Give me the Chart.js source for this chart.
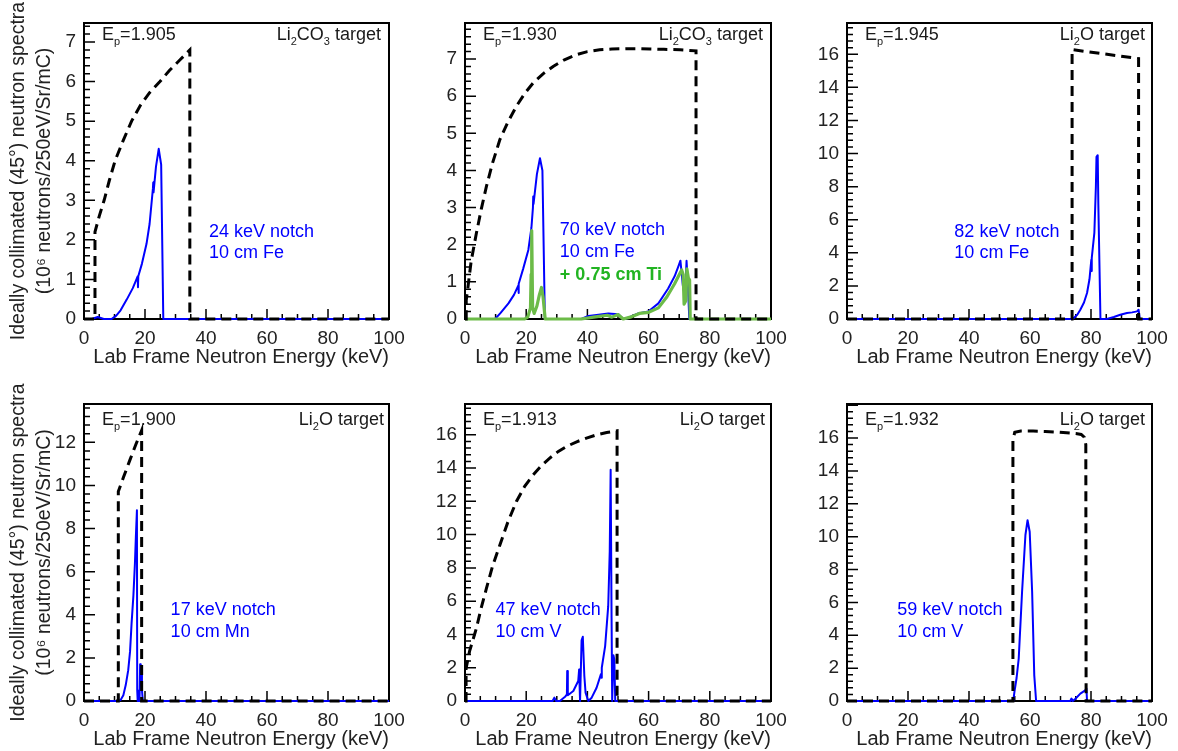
<!DOCTYPE html>
<html>
<head>
<meta charset="utf-8">
<script src="https://cdn.jsdelivr.net/npm/chart.js@4.4.1/dist/chart.umd.min.js"></script>
<style>
  html, body { margin: 0; padding: 0; background: #fff; }
  #wrap { position: relative; width: 1178px; height: 751px; overflow: hidden; }
  #wrap canvas { position: absolute; }
</style>
</head>
<body>
<div id="wrap"></div>
<script>
// ---- data ----
const energyTicks = [0, 20, 40, 60, 80, 100];
const yTitle = ['Ideally collimated (45°) neutron spectra', '(10⁶ neutrons/250eV/Sr/mC)'];
const xTitle = 'Lab Frame Neutron Energy (keV)';

const beamEnergies = ['1.905', '1.930', '1.945', '1.900', '1.913', '1.932'];
const targets = ['Li_{2}CO_{3} target', 'Li_{2}CO_{3} target', 'Li_{2}O target',
                 'Li_{2}O target', 'Li_{2}O target', 'Li_{2}O target'];
const notchLabels = [
  ['24 keV notch', '10 cm Fe'],
  ['70 keV notch', '10 cm Fe'],
  ['82 keV notch', '10 cm Fe'],
  ['17 keV notch', '10 cm Mn'],
  ['47 keV notch', '10 cm V'],
  ['59 keV notch', '10 cm V']
];
const tiLabel = '+ 0.75 cm Ti';
const yMaxes = [7.48, 7.97, 17.89, 13.78, 17.85, 18.07];
const yTicks1 = [0, 1, 2, 3, 4, 5, 6, 7];
const yTicks2 = [0, 2, 4, 6, 8, 10, 12, 14, 16];
const yTickSets = [yTicks1, yTicks1, yTicks2, [0, 2, 4, 6, 8, 10, 12], yTicks2, yTicks2];

// panel 1: Ep=1.905, Li2CO3, 24 keV notch (10 cm Fe)
const p1IdealX = [0, 3.6, 3.6, 5, 6.6, 8.3, 10.2, 12.8, 15.6, 18.5, 21.5, 24.9, 28, 31.5, 34.7, 34.7, 100];
const p1IdealY = [0, 0, 2.2, 2.6, 3.0, 3.5, 4.0, 4.5, 5.0, 5.4, 5.72, 6.0, 6.28, 6.55, 6.8, 0, 0];
const p1FeX = [0, 2.5, 4.5, 6.5, 9, 10.5, 12, 14, 16, 17.6, 17.7, 17.8, 19, 20.5, 21.5, 22.6, 22.7, 22.8, 23.6, 24.5, 25, 25.3, 26, 100];
const p1FeY = [0, 0, 0.05, 0, 0, 0.08, 0.22, 0.49, 0.78, 1.08, 0.8, 1.08, 1.4, 1.9, 2.4, 3.3, 3.45, 3.2, 3.85, 4.3, 4.05, 3.9, 0, 0];

// panel 2: Ep=1.930, Li2CO3, 70 keV notch (10 cm Fe, + 0.75 cm Ti)
const p2IdealX = [0, 0.4, 0.4, 1, 2, 3.7, 5.3, 7, 9, 11.4, 14, 16.8, 19.5, 22.3, 25.5, 28.8, 32.5, 36.5, 40, 44, 48, 52.8, 57, 60.5, 65, 70.3, 75.5, 75.5, 100];
const p2IdealY = [0, 0, 0.5, 0.88, 1.55, 2.3, 2.95, 3.57, 4.2, 4.83, 5.3, 5.73, 6.07, 6.36, 6.6, 6.8, 6.98, 7.12, 7.2, 7.25, 7.27, 7.28, 7.28, 7.27, 7.26, 7.25, 7.22, 0, 0];
const p2FeX = [0, 9.8, 11.5, 14.2, 16, 17.4, 17.5, 17.6, 19, 20.7, 21.7, 22.2, 22.3, 22.4, 23.5, 24.5, 25.3, 26.1, 38, 40.3, 43, 46.8, 50.1, 51.7, 53, 56.6, 59.9, 63.2, 66.4, 68.5, 69.7, 70.4, 71.2, 71.9, 72.4, 72.8, 73.3, 100];
const p2FeY = [0, 0, 0.15, 0.42, 0.65, 0.9, 0.7, 0.95, 1.35, 1.86, 2.45, 3.0, 3.3, 3.1, 3.9, 4.33, 4.0, 0, 0, 0.08, 0.11, 0.15, 0.13, 0, 0.02, 0.15, 0.2, 0.42, 0.82, 1.15, 1.41, 1.57, 0.9, 0.6, 1.57, 1.0, 0, 0];
const p2TiX = [0, 19.5, 20.5, 21.4, 21.6, 21.8, 22.1, 22.6, 23.5, 24.3, 25, 25.5, 26.2, 38, 42, 46.5, 48, 50, 51.7, 54, 57, 60, 63.2, 66, 68.5, 70.8, 71.3, 71.6, 72.2, 72.5, 73.0, 73.4, 73.6, 100];
const p2TiY = [0, 0, 0.05, 0.3, 1.2, 2.38, 0.3, 0.15, 0.35, 0.65, 0.85, 0.6, 0, 0, 0.05, 0.1, 0.05, 0.12, 0, 0.05, 0.15, 0.18, 0.3, 0.6, 0.95, 1.32, 1.2, 0.4, 0.5, 1.35, 1.1, 1.05, 0, 0];

// panel 3: Ep=1.945, Li2O, 82 keV notch (10 cm Fe)
const p3IdealX = [0, 73.8, 73.8, 95.6, 95.6, 100];
const p3IdealY = [0, 0, 16.28, 15.74, 0, 0];
const p3FeX = [0, 74, 75.5, 76.5, 77.7, 78.7, 79.5, 80.1, 80.2, 80.3, 81.1, 81.6, 81.8, 82.2, 82.4, 83.1, 85.2, 87.5, 89.6, 91.8, 93.5, 95.1, 95.6, 96, 100];
const p3FeY = [0, 0, 0.25, 0.56, 1.0, 1.57, 2.4, 3.58, 2.9, 3.7, 5.2, 8.0, 9.8, 9.9, 7.0, 0, 0, 0.12, 0.26, 0.36, 0.4, 0.46, 0.56, 0, 0];

// panel 4: Ep=1.900, Li2O, 17 keV notch (10 cm Mn)
const p4IdealX = [0, 11.25, 11.25, 13, 15.1, 17, 18.9, 18.9, 100];
const p4IdealY = [0, 0, 9.72, 10.4, 11.2, 11.9, 12.56, 0, 0];
const p4MnX = [0, 11.3, 12, 12.9, 13.7, 14.5, 15.1, 15.6, 16.2, 16.7, 17.0, 17.35, 17.45, 17.6, 18.2, 18.4, 18.6, 18.8, 19.0, 19.3, 100];
const p4MnY = [0, 0, 0.05, 0.27, 0.75, 1.43, 2.3, 3.6, 4.9, 6.39, 7.6, 8.85, 0.5, 0, 0, 1.7, 0.8, 1.4, 0.5, 0, 0];

// panel 5: Ep=1.913, Li2O, 47 keV notch (10 cm V)
const p5IdealX = [0, 0.35, 0.35, 1.5, 3.7, 5.3, 7, 9, 11.4, 14, 16.8, 19.5, 22.3, 25, 27.7, 30.5, 33.2, 36.5, 39.7, 43, 46.3, 49.7, 49.7, 100];
const p5IdealY = [0, 0, 1.95, 3.0, 4.36, 5.6, 6.77, 8.1, 9.38, 10.75, 11.99, 12.9, 13.6, 14.15, 14.6, 15.0, 15.3, 15.58, 15.8, 16.0, 16.14, 16.24, 0, 0];
const p5VX = [0, 28.6, 29.2, 29.8, 31, 32.7, 33.3, 33.4, 33.6, 35.4, 37, 37.3, 37.5, 37.6, 38.1, 38.5, 39.0, 39.4, 40.3, 41.4, 43, 44.4, 44.6, 44.7, 45.8, 46.8, 47.3, 47.6, 47.9, 48.1, 48.3, 48.5, 48.8, 49.1, 100];
const p5VY = [0, 0, 0.2, 0, 0, 0.25, 0.4, 1.8, 0.35, 0.6, 1.2, 1.9, 0.6, 0, 3.65, 3.86, 1.5, 0.5, 0, 0.2, 0.8, 1.6, 1.4, 2.0, 3.3, 5.7, 9.0, 13.9, 5, 0, 0, 2.75, 2.5, 0, 0];

// panel 6: Ep=1.932, Li2O, 59 keV notch (10 cm V)
const p6IdealX = [0, 54.4, 54.4, 55, 57, 61, 65, 69, 72, 75, 76.8, 77.8, 78.3, 78.4, 100];
const p6IdealY = [0, 0, 15.9, 16.35, 16.42, 16.42, 16.4, 16.36, 16.32, 16.28, 16.22, 16.05, 15.6, 0, 0];
const p6VX = [0, 54.5, 54.9, 55.6, 56.3, 57.4, 58.5, 59.2, 59.9, 60.7, 61.4, 62, 73.2, 73.6, 74, 74.9, 76.5, 78.1, 78.5, 78.7, 100];
const p6VY = [0, 0, 0.55, 1.4, 2.58, 6.65, 10.1, 11.0, 10.3, 6.65, 1.56, 0, 0, 0.15, 0, 0.14, 0.45, 0.65, 0.75, 0, 0];

// ---- layout ----
// plot boxes [left, top, right, bottom] in page pixels
const boxes = [
  [84, 23, 389, 319], [465, 23, 771, 319], [847, 23, 1152, 319],
  [84, 404, 389, 701], [465, 404, 771, 701], [847, 404, 1152, 701]
];
const headY = [16.5, 16.5, 16.5, 20.5, 20.5, 20.5];
const targetDx = [8, 8, 7, 5, 6, 7];
// notch label anchor (keV, y of first baseline)
const noteAt = [[41, 2.08], [31, 2.26], [35.2, 4.97], [28.4, 3.99], [10.0, 5.16], [16.5, 5.23]];
const minorStep = [0.2, 0.2, 0.4, 0.4, 0.4, 0.4];

const FONT = '"Liberation Sans", Arial, Helvetica, sans-serif';
Chart.defaults.font.family = FONT;
Chart.defaults.color = '#222';

function zip(xs, ys) { return xs.map((x, i) => ({ x: x, y: ys[i] })); }

function richParts(str) {
  return str.split(/(_\{[^}]*\})/).filter(s => s).map(s =>
    s.startsWith('_{') ? { t: s.slice(2, -1), sub: true } : { t: s, sub: false });
}

function drawRich(ctx, str, x, y, size, align) {
  const parts = richParts(str);
  const fontFor = p => (p.sub ? Math.round(size * 0.62) : size) + 'px ' + FONT;
  let w = 0;
  parts.forEach(p => { ctx.font = fontFor(p); p.w = ctx.measureText(p.t).width; w += p.w; });
  let cx = align === 'right' ? x - w : x;
  parts.forEach(p => {
    ctx.font = fontFor(p);
    ctx.fillText(p.t, cx, p.sub ? y + size * 0.3 : y);
    cx += p.w;
  });
}

// frame with inward ROOT-style ticks
function framePlugin(i) {
  return {
    id: 'frame',
    beforeDatasetsDraw(chart) {
      const { ctx, chartArea: a, scales: { x, y } } = chart;
      const yt = yTickSets[i];
      const major = yt[1] - yt[0];
      ctx.save();
      ctx.strokeStyle = '#000';
      ctx.lineWidth = 1.5;
      ctx.beginPath();
      for (let v = 0; v <= 100; v += 5) {
        const px = x.getPixelForValue(v);
        ctx.moveTo(px, a.bottom);
        ctx.lineTo(px, a.bottom - (v % 20 === 0 ? 10 : 5));
      }
      const n = Math.floor(yMaxes[i] / minorStep[i] + 1e-9);
      for (let k = 0; k <= n; k++) {
        const v = k * minorStep[i];
        const py = y.getPixelForValue(v);
        const isMajor = Math.abs(v / major - Math.round(v / major)) < 1e-6;
        ctx.moveTo(a.left, py);
        ctx.lineTo(a.left + (isMajor ? 11 : 6), py);
      }
      ctx.stroke();
      ctx.lineWidth = 2;
      ctx.strokeRect(a.left, a.top, a.right - a.left, a.bottom - a.top);
      ctx.restore();
    }
  };
}

function notesPlugin(i) {
  return {
    id: 'notes',
    afterDatasetsDraw(chart) {
      const { ctx, chartArea: a, scales: { x, y } } = chart;
      ctx.save();
      ctx.textBaseline = 'alphabetic';
      ctx.textAlign = 'left';
      ctx.fillStyle = '#1a1a1a';
      drawRich(ctx, 'E_{p}=' + beamEnergies[i], a.left + 18, a.top + headY[i], 18, 'left');
      drawRich(ctx, targets[i], a.right - targetDx[i], a.top + headY[i], 18, 'right');
      const bx = x.getPixelForValue(noteAt[i][0]);
      const by = y.getPixelForValue(noteAt[i][1]);
      ctx.fillStyle = '#0000ff';
      ctx.font = '18px ' + FONT;
      notchLabels[i].forEach((t, k) => { ctx.fillText(t, bx, by + k * 21.5); });
      if (i === 1) {
        ctx.fillStyle = '#22b422';
        ctx.font = 'bold 18px ' + FONT;
        ctx.fillText(tiLabel, bx, by + 21.5 + 23.5);
      }
      ctx.restore();
    }
  };
}

function idealSet(xs, ys) {
  return { data: zip(xs, ys), borderColor: '#000', borderWidth: 3, borderDash: [10, 6],
           pointRadius: 0, showLine: true, tension: 0, clip: 4 };
}
function filterSet(xs, ys, color, width) {
  return { data: zip(xs, ys), borderColor: color, borderWidth: width, borderJoinStyle: 'round',
           pointRadius: 0, showLine: true, tension: 0, clip: 4 };
}

const BLUE = '#0000ff';
const GREEN = '#6cbb48';
const panelSets = [
  [idealSet(p1IdealX, p1IdealY), filterSet(p1FeX, p1FeY, BLUE, 2)],
  [idealSet(p2IdealX, p2IdealY), filterSet(p2TiX, p2TiY, GREEN, 3.2), filterSet(p2FeX, p2FeY, BLUE, 2)],
  [idealSet(p3IdealX, p3IdealY), filterSet(p3FeX, p3FeY, BLUE, 2)],
  [idealSet(p4IdealX, p4IdealY), filterSet(p4MnX, p4MnY, BLUE, 2)],
  [idealSet(p5IdealX, p5IdealY), filterSet(p5VX, p5VY, BLUE, 2)],
  [idealSet(p6IdealX, p6IdealY), filterSet(p6VX, p6VY, BLUE, 2)]
];

function zeroPad(s) { s.paddingTop = 0; s.paddingBottom = 0; s.paddingLeft = 0; s.paddingRight = 0; }

const wrap = document.getElementById('wrap');
boxes.forEach((b, i) => {
  const [L, T, R, B] = b;
  const firstCol = i % 3 === 0;
  // the left column needs room above the frame for the long rotated y title
  const padTop = firstCol ? 23 : 12;
  const cx = firstCol ? 0 : L - 50;
  const cy = T - padTop;
  const cw = R + 22 - cx;
  const ch = B + 50 - cy;
  const canvas = document.createElement('canvas');
  canvas.width = cw; canvas.height = ch;
  canvas.style.left = cx + 'px'; canvas.style.top = cy + 'px';
  canvas.style.width = cw + 'px'; canvas.style.height = ch + 'px';
  wrap.appendChild(canvas);

  new Chart(canvas, {
    type: 'scatter',
    data: { datasets: panelSets[i] },
    options: {
      responsive: false,
      animation: false,
      devicePixelRatio: 1,
      layout: { autoPadding: false, padding: { top: padTop, right: 22, left: 0, bottom: 0 } },
      plugins: { legend: { display: false }, tooltip: { enabled: false } },
      scales: {
        x: {
          type: 'linear', min: 0, max: 100,
          grid: { display: false, drawTicks: false, tickLength: 0 }, border: { display: false },
          afterBuildTicks: s => { s.ticks = energyTicks.map(v => ({ value: v })); },
          afterFit: s => { s.height = 50; zeroPad(s); },
          ticks: { font: { size: 19 }, padding: 8, maxRotation: 0, color: '#222' },
          title: { display: true, text: xTitle, align: 'end', color: '#222',
                   font: { size: 20, lineHeight: 1.2 }, padding: { top: 0, bottom: 0 } }
        },
        y: {
          type: 'linear', min: 0, max: yMaxes[i],
          grid: { display: false, drawTicks: false, tickLength: 0 }, border: { display: false },
          afterBuildTicks: s => { s.ticks = yTickSets[i].map(v => ({ value: v })); },
          afterFit: s => { s.width = L - cx; zeroPad(s); },
          ticks: { font: { size: 19 }, padding: 8, color: '#222' },
          title: { display: firstCol, text: yTitle, color: '#222',
                   font: { size: 19.5, lineHeight: 1.33 }, padding: { top: 6, bottom: 0 } }
        }
      }
    },
    plugins: [framePlugin(i), notesPlugin(i)]
  });
});
</script>
</body>
</html>
